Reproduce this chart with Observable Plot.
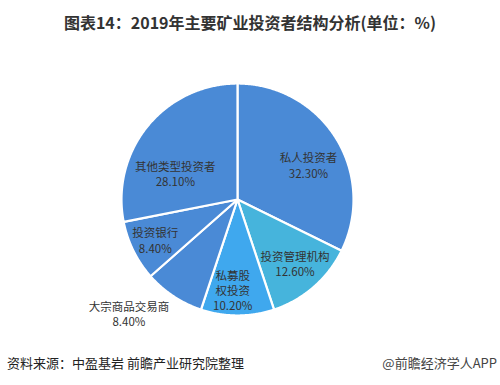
<!DOCTYPE html>
<html>
<head>
<meta charset="utf-8">
<script src="https://cdn.jsdelivr.net/npm/d3@7"></script>
<script src="https://cdn.jsdelivr.net/npm/@observablehq/plot@0.6"></script>
<style>
  html, body { margin: 0; padding: 0; background: #ffffff; }
  body { width: 500px; height: 385px; overflow: hidden; font-family: "Noto Sans CJK SC", "Noto Sans", sans-serif; }
  #title { height: 40px; line-height: 44px; text-align: center; font-size: 16px; font-weight: bold; color: #333333; }
  #footer { height: 45px; line-height: 46px; display: flex; justify-content: space-between; padding: 0 3px 0 7px; font-size: 13px; }
  #footer .src { color: #222222; }
  #footer .brand { color: #444444; }
</style>
</head>
<body>
<div id="title">图表14：2019年主要矿业投资者结构分析(单位：%)</div>
<div id="chart"></div>
<div id="footer"><span class="src">资料来源：中盈基岩 前瞻产业研究院整理</span><span class="brand">@前瞻经济学人APP</span></div>
<script>
// ---- data ----
const categories = ["私人投资者", "投资管理机构", "私募股权投资", "大宗商品交易商", "投资银行", "其他类型投资者"];
const labelNames = ["私人投资者", "投资管理机构", "私募股\n权投资", "大宗商品交易商", "投资银行", "其他类型投资者"];
const shares = [32.3, 12.6, 10.2, 8.4, 8.4, 28.1];
const percentLabels = ["32.30%", "12.60%", "10.20%", "8.40%", "8.40%", "28.10%"];
const sliceColors = ["#4a8ad6", "#46b4dc", "#3fa8ee", "#4a8ad6", "#4a8ad6", "#4a8ad6"];

// ---- layout (geometry only) ----
const W = 500, H = 300, R = 116, CX = 237, CY = 159;
// label placement: [angle offset from slice middle (deg), radius as fraction of R]
const labelPlacement = [[6, 0.68], [-1, 0.74], [3, 0.785], [10, 1.36], [0, 0.79], [-17, 0.58]];

const total = d3.sum(shares);
const slices = [];
const labels = [];
let acc = 0;
shares.forEach((v, i) => {
  const a0 = acc / total * 2 * Math.PI;
  acc += v;
  const a1 = acc / total * 2 * Math.PI;
  const n = Math.max(2, Math.ceil((a1 - a0) / (Math.PI / 360)));
  slices.push({name: categories[i], x: 0, y: 0});
  for (let k = 0; k <= n; k++) {
    const a = a0 + (a1 - a0) * k / n;
    slices.push({name: categories[i], x: Math.sin(a), y: Math.cos(a)});
  }
  const mid = (a0 + a1) / 2 + labelPlacement[i][0] * Math.PI / 180;
  const r = labelPlacement[i][1];
  labels.push({text: labelNames[i] + "\n" + percentLabels[i], x: r * Math.sin(mid), y: r * Math.cos(mid)});
});

const chart = Plot.plot({
  width: W,
  height: H,
  margin: 0,
  style: {fontFamily: "'Noto Sans CJK SC', 'Noto Sans', sans-serif", background: "transparent"},
  x: {domain: [-CX / R, (W - CX) / R], axis: null},
  y: {domain: [-(H - CY) / R, CY / R], axis: null},
  color: {domain: categories, range: sliceColors},
  marks: [
    Plot.line(slices, {x: "x", y: "y", z: "name", fill: "name", stroke: "#ffffff", strokeWidth: 2.2, curve: "linear-closed", strokeLinejoin: "round"}),
    Plot.text(labels, {x: "x", y: "y", text: "text", lineAnchor: "middle", fontSize: 11.5, lineHeight: 1.32, fill: "#333333"})
  ]
});
document.getElementById("chart").appendChild(chart);
</script>
</body>
</html>
